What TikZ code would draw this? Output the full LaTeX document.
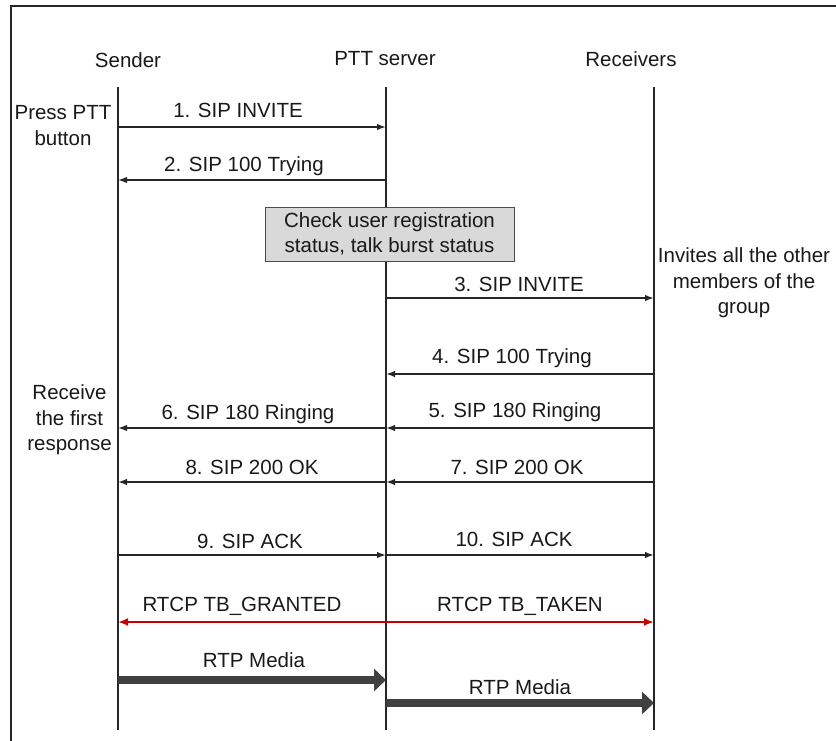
\documentclass[tikz,border=0pt]{standalone}
\usepackage{fontspec}
\setmainfont{Liberation Sans}
\usetikzlibrary{arrows.meta}

\definecolor{linegray}{HTML}{262626}
\definecolor{boxgray}{HTML}{D9D9D9}
\definecolor{tbred}{HTML}{C80000}
\definecolor{mediagray}{HTML}{404040}

\tikzset{
  lbl/.style={font=\fontsize{20.5}{25.5}\selectfont, text=black!90, inner sep=0},
  note/.style={lbl, align=center},
  life/.style={draw=linegray, line width=1.6pt},
  msg/.style={draw=linegray, line width=1.5pt, -{Latex[length=9pt,width=6.5pt]}},
  tb/.style={draw=tbred, line width=2.4pt, {Latex[length=10pt,width=8pt]}-{Latex[length=10pt,width=8pt]}},
  media/.style={draw=mediagray, line width=8pt, -{Triangle[length=12pt,width=22pt]}},
  checkbox/.style={note, draw=gray!60!black, fill=boxgray, line width=1pt, minimum width=249pt, minimum height=54pt}
}

\begin{document}
\begin{tikzpicture}[x=1pt,y=-1pt]
\useasboundingbox (0,0) rectangle (836,740);

% frame
\draw [linegray, line width=2pt] (11,745) -- (11,6) -- (845,6);

% headers
\node [lbl] (sender) at (128,60) {Sender};
\node [lbl] (server) at (385,59) {PTT server};
\node [lbl] (receivers) at (631,59) {Receivers};

% lifelines
\coordinate (sndtop) at (118,87);
\coordinate (sndbot) at (118,730);
\coordinate (srvtop) at (386,87);
\coordinate (srvbot) at (386,730);
\coordinate (rcvtop) at (654,87);
\coordinate (rcvbot) at (654,730);
\draw [life] (sndtop) -- (sndbot);
\draw [life] (srvtop) -- (srvbot);
\draw [life] (rcvtop) -- (rcvbot);

% message rows
\foreach \n/\y in {1/127,2/180,3/298,4/374,5/428,6/482,7/555,8/622,9/680,10/703}{
  \coordinate (snd\n) at (118,\y);
  \coordinate (srv\n) at (386,\y);
  \coordinate (rcv\n) at (654,\y);
}

\node [checkbox] (check) at (389.5,234) {Check user registration\\status, talk burst status};

\node [note] (press) at (63,125.5) {Press PTT\\button};
\node [note] (invites) at (744,283) {Invites all the other\\members of the\\group};
\node [note] (receive) at (69.5,420) {Receive\\the first\\response};

\draw [msg] (snd1) -- (srv1);
\node [lbl] (m1) at (238,110) {1. SIP INVITE};
\draw [msg] (srv2) -- (snd2);
\node [lbl] (m2) at (244,166) {2. SIP 100 Trying};
\draw [msg] (srv3) -- (rcv3);
\node [lbl] (m3) at (519,284) {3. SIP INVITE};
\draw [msg] (rcv4) -- (srv4);
\node [lbl] (m4) at (512,358) {4. SIP 100 Trying};
\draw [msg] (rcv5) -- (srv5);
\node [lbl] (m5) at (515,412) {5. SIP 180 Ringing};
\draw [msg] (srv5) -- (snd5);
\node [lbl] (m6) at (248,414) {6. SIP 180 Ringing};
\draw [msg] (rcv6) -- (srv6);
\node [lbl] (m7) at (517,467) {7. SIP 200 OK};
\draw [msg] (srv6) -- (snd6);
\node [lbl] (m8) at (252,467) {8. SIP 200 OK};
\draw [msg] (snd7) -- (srv7);
\node [lbl] (m9) at (250,541) {9. SIP ACK};
\draw [msg] (srv7) -- (rcv7);
\node [lbl] (m10) at (514,539) {10. SIP ACK};

\draw [tb] (snd8) -- (rcv8);
\node [lbl] (granted) at (242,606) {RTCP TB\_GRANTED};
\node [lbl] (taken) at (520,606) {RTCP TB\_TAKEN};

\draw [media] (snd9) -- (srv9);
\node [lbl] (media1) at (254,660) {RTP Media};
\draw [media] (srv10) -- (rcv10);
\node [lbl] (media2) at (520,687) {RTP Media};
\end{tikzpicture}
\end{document}
